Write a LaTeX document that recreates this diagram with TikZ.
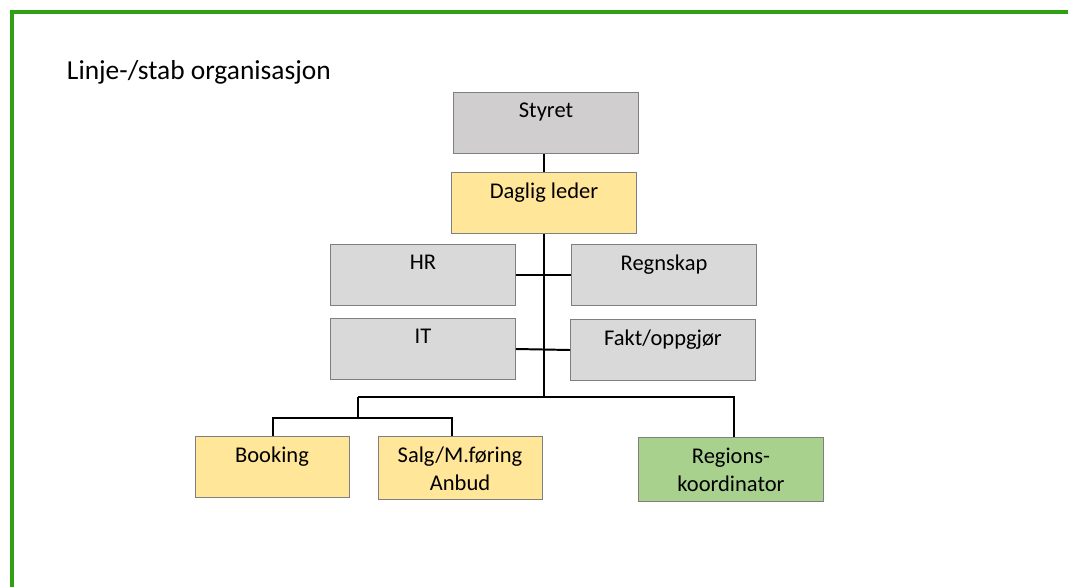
\documentclass[tikz,border=0pt]{standalone}
\usepackage{fontspec}
\setmainfont{Carlito}
\usetikzlibrary{positioning}
\definecolor{framegreen}{RGB}{46,160,20}
\definecolor{boxgrey}{RGB}{217,217,217}
\definecolor{boardgrey}{RGB}{208,206,206}
\definecolor{boxyellow}{RGB}{255,230,153}
\definecolor{boxgreen}{RGB}{169,209,142}
\definecolor{boxline}{RGB}{127,127,127}

\begin{document}
\begin{tikzpicture}[x=0.025cm, y=-0.025cm, line width=1.4pt,
    box/.style={draw=boxline, line width=0.6pt, minimum width=4.625cm, minimum height=1.525cm, inner sep=0pt},
    boxtext/.style={anchor=north, inner sep=0pt, yshift=-0.25cm, align=center, font=\fontsize{16}{20}\selectfont}]

	\useasboundingbox (0,0) rectangle (1068,587);

	% Draw the frame
	\draw[framegreen, line width=2.8pt] (12,587) -- (12,12) -- (1068,12);

	\node[anchor=base west, inner sep=0pt, font=\fontsize{19.5}{23}\selectfont] (title) at (66,79) {Linje-/stab organisasjon};

	% Draw the boxes
	\node[box, fill=boardgrey, label={[boxtext]north:Styret}] (styret) at (546,123) {};
	\node[box, fill=boxyellow, label={[boxtext]north:Daglig leder}] (daglig) at (544,203) {};

	\node[box, fill=boxgrey, label={[boxtext]north:HR}] (hr) at (423,275) {};
	\node[box, fill=boxgrey, label={[boxtext]north:Regnskap}] (regnskap) at (664,275) {};
	\node[box, fill=boxgrey, label={[boxtext]north:IT}] (it) at (423,349) {};
	\node[box, fill=boxgrey, label={[boxtext]north:Fakt/oppgjør}] (fakt) at (663,350) {};

	\node[box, fill=boxyellow, minimum width=3.85cm, label={[boxtext]north:Booking}] (booking) at (272,467) {};
	\node[box, fill=boxyellow, minimum width=4.1cm, minimum height=1.575cm, label={[boxtext]north:Salg/M.føring\\Anbud}] (salg) at (460,468) {};
	\node[box, fill=boxgreen, minimum height=1.6cm, label={[boxtext]north:Regions-\\koordinator}] (regions) at (731,469) {};

	% Draw the lines between the boxes
	\coordinate (bus) at (544,397);
	\coordinate (busL) at (358,397);
	\coordinate (busR) at (734,397);
	\coordinate (subL) at (273,418);
	\coordinate (subR) at (452,418);

	\draw (daglig.north) -- (daglig.north |- styret.south);
	\draw (daglig.south) -- (bus);
	\draw (hr.east) -- (regnskap.west);
	\draw (it.east) -- (fakt.west);

	\draw (busL) -- (busR) -- (busR |- regions.north);
	\draw (busL) -- (busL |- subL);
	\draw (subL |- booking.north) -- (subL) -- (subR) -- (subR |- salg.north);

\end{tikzpicture}
\end{document}
